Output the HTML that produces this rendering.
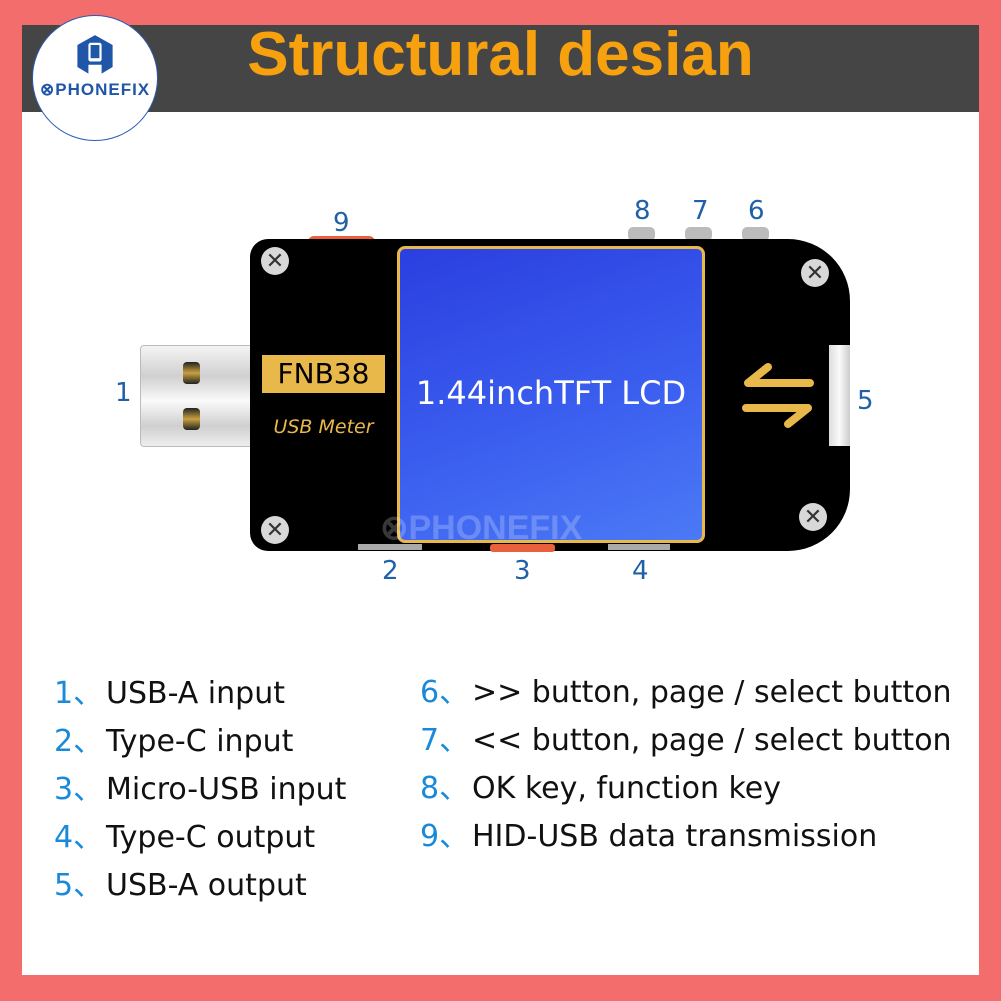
<!DOCTYPE html>
<html><head><meta charset="utf-8"><style>
body{margin:0;width:1001px;height:1001px;background:#f36d6d;position:relative;overflow:hidden;font-family:"Liberation Sans",sans-serif}
.a{position:absolute}
.white{left:22px;top:25px;width:957px;height:950px;background:#fff}
.hdr{left:22px;top:25px;width:957px;height:87px;background:#454545}
.title{left:0;width:1001px;top:19px;text-align:center;font:bold 62px "Liberation Sans",sans-serif;color:#f7a10f}
.logo{left:32px;top:15px;width:124px;height:124px;border-radius:50%;background:#fff;border:1.5px solid #2a5cb0}
.lbl{color:#2060a8;font-size:26px;font-family:"DejaVu Sans",sans-serif}
.screw{width:28px;height:28px;border-radius:50%;background:#d8d8d8;color:#333;font-size:22px;line-height:28px;text-align:center}
.li{font-size:30px;font-family:"DejaVu Sans",sans-serif;color:#111;white-space:nowrap}
.li b{font-weight:normal;color:#1a8ad8;display:inline-block;width:52px}
</style></head><body>
<div class="a white"></div>
<div class="a hdr"></div>
<div class="a title">Structural desian</div>
<div class="a logo">
<svg class="a" style="left:42px;top:18px" width="40" height="44" viewBox="0 0 36 40"><path d="M18 1 L34 10 L34 30 L24 36 L24 28 L12 28 L12 36 L2 30 L2 10 Z" fill="#1f56a8"/><rect x="12" y="8" width="12" height="17" rx="2" fill="#fff"/><rect x="14" y="10" width="8" height="12" fill="#1f56a8"/></svg>
<div class="a" style="left:7px;top:64px;font:bold 17px 'Liberation Sans',sans-serif;color:#1f56a8;letter-spacing:1px">⊗PHONEFIX</div>
</div>
<div class="a" style="left:140px;top:345px;width:115px;height:100px;border-radius:4px;background:linear-gradient(#f4f4f4,#d0d0d0 30%,#fafafa 55%,#cfcfcf 80%,#eee);border:1px solid #bbb"></div>
<div class="a" style="left:183px;top:362px;width:17px;height:22px;border-radius:4px;background:linear-gradient(#222,#c9a040 50%,#222)"></div>
<div class="a" style="left:183px;top:408px;width:17px;height:22px;border-radius:4px;background:linear-gradient(#222,#c9a040 50%,#222)"></div>
<div class="a" style="left:308px;top:236px;width:67px;height:14px;border-radius:6px;background:#e8603c"></div>
<div class="a" style="left:628px;top:227px;width:27px;height:14px;border-radius:5px;background:#bbb"></div>
<div class="a" style="left:685px;top:227px;width:27px;height:14px;border-radius:5px;background:#bbb"></div>
<div class="a" style="left:742px;top:227px;width:27px;height:14px;border-radius:5px;background:#bbb"></div>
<div class="a" style="left:250px;top:239px;width:600px;height:312px;background:#000;border-radius:18px 62px 62px 18px"></div>
<div class="a" style="left:829px;top:345px;width:21px;height:101px;background:linear-gradient(90deg,#ddd,#fafafa,#ccc)"></div>
<div class="a" style="left:358px;top:544px;width:64px;height:6px;background:#aaa"></div>
<div class="a" style="left:490px;top:544px;width:65px;height:8px;border-radius:3px;background:#e8603c"></div>
<div class="a" style="left:608px;top:544px;width:62px;height:6px;background:#aaa"></div>
<div class="a" style="left:397px;top:246px;width:302px;height:291px;border:3px solid #e8b84a;border-radius:8px;background:linear-gradient(160deg,#2a3fe0,#3c60f0 60%,#4b7af5)"></div>
<div class="a" style="left:397px;top:374px;width:308px;text-align:center;color:#fff;font:32px 'DejaVu Sans',sans-serif">1.44inchTFT LCD</div>
<div class="a" style="left:262px;top:355px;width:123px;height:38px;background:#e8b84a"></div>
<div class="a" style="left:262px;top:355px;width:123px;text-align:center;font:28px 'DejaVu Sans',sans-serif;line-height:38px;color:#000">FNB38</div>
<div class="a" style="left:262px;top:416px;width:123px;text-align:center;font:italic 19px 'DejaVu Sans',sans-serif;color:#e8b84a">USB Meter</div>
<svg class="a" style="left:738px;top:360px" width="80" height="75"><g stroke="#e8b84a" stroke-width="8" stroke-linecap="round" fill="none"><path d="M10 23 H72 M30 7 L10 23"/><path d="M8 48 H70 M50 64 L70 48"/></g></svg>
<div class="a screw" style="left:261px;top:247px">✕</div>
<div class="a screw" style="left:261px;top:516px">✕</div>
<div class="a screw" style="left:801px;top:259px">✕</div>
<div class="a screw" style="left:799px;top:503px">✕</div>
<div class="a" style="left:380px;top:508px;font:bold 34px 'Liberation Sans',sans-serif;color:rgba(255,255,255,0.22)">⊗PHONEFIX</div>
<div class="a lbl" style="left:333px;top:208px">9</div>
<div class="a lbl" style="left:634px;top:196px">8</div>
<div class="a lbl" style="left:692px;top:196px">7</div>
<div class="a lbl" style="left:748px;top:196px">6</div>
<div class="a lbl" style="left:115px;top:378px">1</div>
<div class="a lbl" style="left:857px;top:386px">5</div>
<div class="a lbl" style="left:382px;top:556px">2</div>
<div class="a lbl" style="left:514px;top:556px">3</div>
<div class="a lbl" style="left:632px;top:556px">4</div>
<div class="a li" style="left:54px;top:668px"><b>1、</b>USB-A input</div>
<div class="a li" style="left:54px;top:716px"><b>2、</b>Type-C input</div>
<div class="a li" style="left:54px;top:764px"><b>3、</b>Micro-USB input</div>
<div class="a li" style="left:54px;top:812px"><b>4、</b>Type-C output</div>
<div class="a li" style="left:54px;top:860px"><b>5、</b>USB-A output</div>
<div class="a li" style="left:420px;top:667px"><b>6、</b>&gt;&gt; button, page / select button</div>
<div class="a li" style="left:420px;top:715px"><b>7、</b>&lt;&lt; button, page / select button</div>
<div class="a li" style="left:420px;top:763px"><b>8、</b>OK key, function key</div>
<div class="a li" style="left:420px;top:811px"><b>9、</b>HID-USB data transmission</div>
</body></html>
